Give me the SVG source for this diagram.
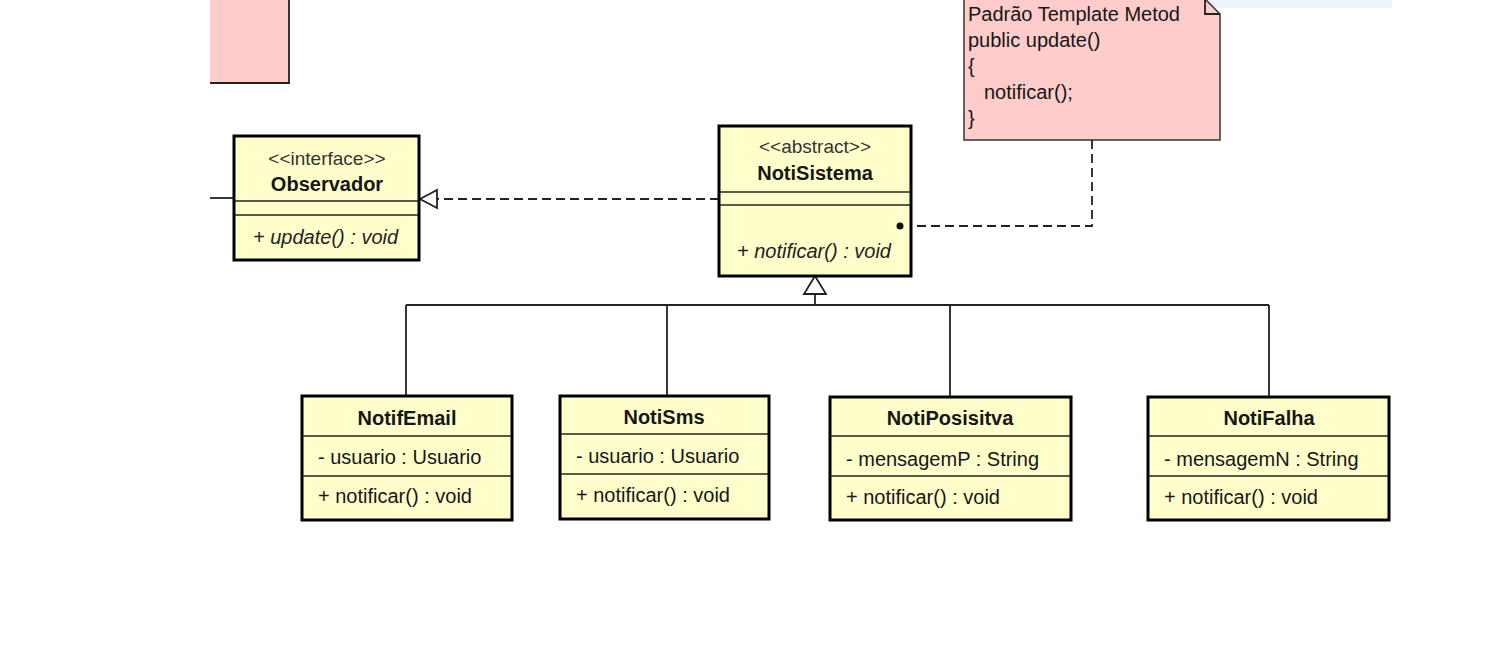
<svg xmlns="http://www.w3.org/2000/svg" width="1498" height="648" viewBox="0 0 1498 648">
  <style>
    text { font-family: "Liberation Sans", Arial, sans-serif; font-size: 20px; fill: #161616; }
    .cls { fill: #ffffcc; stroke: #000; stroke-width: 3; }
    .div { stroke: #222; stroke-width: 1.5; }
    .note { fill: #ffcccc; stroke: #333; stroke-width: 1.5; }
    .name { font-weight: bold; text-anchor: middle; }
    .stereo { text-anchor: middle; fill: #333; font-size: 19px; }
    .op { font-style: italic; fill: #222; }
    .conn { fill: none; stroke: #222; stroke-width: 1.8; }
    .dash { stroke-dasharray: 9 5; }
    .tri { fill: #fff; stroke: #222; stroke-width: 1.8; }
  </style>

  <rect width="1498" height="648" fill="#fff"/>

  <!-- tooltip strip at the top edge -->
  <rect x="1136" y="0" width="256" height="8" fill="#e6eefa" opacity="0.7"/>

  <!-- note fragment at the upper left -->
  <g id="note-left">
    <rect x="210" y="0" width="79" height="83" fill="#ffcccc"/>
    <path class="conn" d="M289,0 V83 H210" stroke="#333" stroke-width="1.5"/>
  </g>

  <!-- template method note -->
  <g id="note-template">
    <path class="note" d="M964,-1 H1205 L1220,14 V140 H964 Z"/>
    <path class="conn" d="M1205,-1 V14 H1220" stroke-width="1.5"/>
    <text x="968" y="21">Padrão Template Metod</text>
    <text x="968" y="47">public update()</text>
    <text x="968" y="73">{</text>
    <text x="984" y="99">notificar();</text>
    <text x="968" y="125">}</text>
  </g>

  <g id="connectors">
    <!-- line entering Observador from the left -->
    <line class="conn" x1="210" y1="198" x2="234" y2="198"/>
    <!-- realization NotiSistema -> Observador -->
    <line class="conn dash" x1="719" y1="199" x2="437" y2="199"/>
    <polygon class="tri" points="420,199 437,190 437,208"/>
    <!-- note anchor -->
    <path class="conn dash" d="M1092,140 V226 H912"/>
    <!-- generalization tree -->
    <polygon class="tri" points="815,276 804,294 826,294"/>
    <line class="conn" x1="815" y1="294" x2="815" y2="305"/>
    <line class="conn" x1="406" y1="305" x2="1269" y2="305"/>
    <line class="conn" x1="406" y1="305" x2="406" y2="396"/>
    <line class="conn" x1="667" y1="305" x2="667" y2="396"/>
    <line class="conn" x1="950" y1="305" x2="950" y2="397"/>
    <line class="conn" x1="1269" y1="305" x2="1269" y2="397"/>
  </g>

  <g id="Observador">
    <rect class="cls" x="234" y="136" width="185" height="124"/>
    <line class="div" x1="235" y1="201" x2="418" y2="201"/>
    <line class="div" x1="235" y1="215" x2="418" y2="215"/>
    <text class="stereo" x="327" y="165">&lt;&lt;interface&gt;&gt;</text>
    <text class="name" x="327" y="191">Observador</text>
    <text class="op" x="253" y="244">+ update() : void</text>
  </g>

  <g id="NotiSistema">
    <rect class="cls" x="719" y="126" width="192" height="150"/>
    <line class="div" x1="720" y1="192" x2="910" y2="192"/>
    <line class="div" x1="720" y1="205" x2="910" y2="205"/>
    <text class="stereo" x="815" y="153">&lt;&lt;abstract&gt;&gt;</text>
    <text class="name" x="815" y="180">NotiSistema</text>
    <text class="op" x="737" y="258">+ notificar() : void</text>
    <!-- anchor point of the note link -->
    <circle cx="900" cy="226" r="3.5" fill="#111"/>
  </g>

  <g id="NotifEmail">
    <rect class="cls" x="302" y="396" width="210" height="124"/>
    <line class="div" x1="303" y1="436" x2="511" y2="436"/>
    <line class="div" x1="303" y1="476" x2="511" y2="476"/>
    <text class="name" x="407" y="425">NotifEmail</text>
    <text x="318" y="464">- usuario : Usuario</text>
    <text x="318" y="503">+ notificar() : void</text>
  </g>

  <g id="NotiSms">
    <rect class="cls" x="560" y="396" width="209" height="123"/>
    <line class="div" x1="561" y1="434" x2="768" y2="434"/>
    <line class="div" x1="561" y1="474" x2="768" y2="474"/>
    <text class="name" x="664" y="424">NotiSms</text>
    <text x="576" y="463">- usuario : Usuario</text>
    <text x="576" y="502">+ notificar() : void</text>
  </g>

  <g id="NotiPosisitva">
    <rect class="cls" x="830" y="397" width="241" height="123"/>
    <line class="div" x1="831" y1="436" x2="1070" y2="436"/>
    <line class="div" x1="831" y1="476" x2="1070" y2="476"/>
    <text class="name" x="950" y="425">NotiPosisitva</text>
    <text x="846" y="466">- mensagemP : String</text>
    <text x="846" y="504">+ notificar() : void</text>
  </g>

  <g id="NotiFalha">
    <rect class="cls" x="1148" y="397" width="241" height="123"/>
    <line class="div" x1="1149" y1="436" x2="1388" y2="436"/>
    <line class="div" x1="1149" y1="476" x2="1388" y2="476"/>
    <text class="name" x="1269" y="425">NotiFalha</text>
    <text x="1164" y="466">- mensagemN : String</text>
    <text x="1164" y="504">+ notificar() : void</text>
  </g>
</svg>
